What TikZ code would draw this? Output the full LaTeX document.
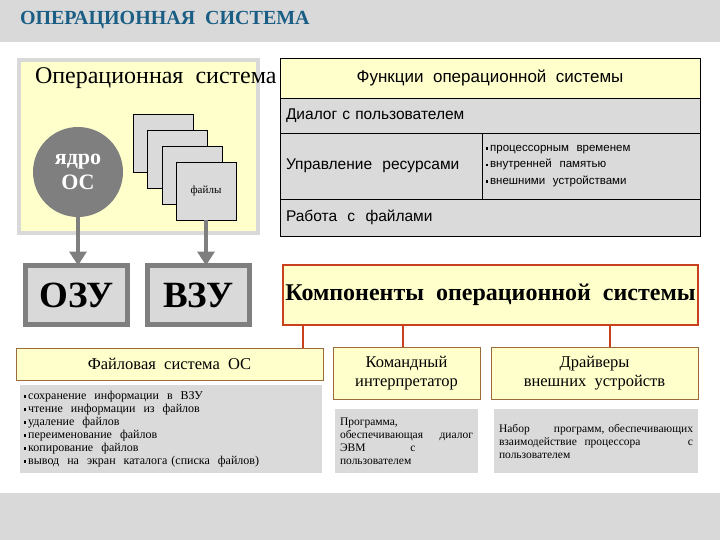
\documentclass[tikz,border=0pt]{standalone}
\usepackage{fontspec}
\setmainfont{Liberation Serif}
\setsansfont{Liberation Sans}
\usetikzlibrary{arrows.meta}
\usetikzlibrary{calc}

\definecolor{bandgray}{HTML}{D9D9D9}
\definecolor{cellgray}{HTML}{DADADA}
\definecolor{paleyellow}{HTML}{FFFFCC}
\definecolor{titleblue}{HTML}{1B5E85}
\definecolor{darkgray}{HTML}{7F7F7F}
\definecolor{boxred}{HTML}{C8401E}
\definecolor{boxbrown}{HTML}{9C6B3C}

\newcommand{\sqbul}{\rule[0.15em]{2.2pt}{2.2pt}\,}

\begin{document}
\begin{tikzpicture}[x=1pt,y=-1pt,
	every node/.style={inner sep=0pt, outer sep=0pt},
	panel/.style={draw=bandgray, line width=4pt, fill=paleyellow, anchor=north west},
	filebox/.style={draw, fill=cellgray, minimum width=60pt, minimum height=58pt, anchor=north west},
	memory/.style={draw=darkgray, line width=5pt, fill=bandgray, minimum width=102pt, minimum height=59pt,
		font=\fontsize{37}{37}\selectfont\bfseries},
	cell/.style={draw, fill=cellgray, anchor=north west, font=\sffamily\fontsize{15.5}{17}\selectfont},
	head/.style={draw, fill=paleyellow, anchor=north west},
	note/.style={fill=cellgray, anchor=north west, align=left, inner xsep=4pt, inner ysep=5pt,
		font=\fontsize{11.5}{13}\selectfont},
	comp/.style={draw=boxbrown, fill=paleyellow, anchor=north west, align=center,
		font=\fontsize{16.5}{19}\selectfont},
	hook/.style={->, >={Triangle[width=17pt,length=14pt]}, draw=darkgray, line width=4pt},
	link/.style={draw=boxred, line width=1.5pt}
]
\useasboundingbox (0,0) rectangle (720,540);
\fill[bandgray] (0,0) rectangle (720,42);
\fill[bandgray] (0,493) rectangle (720,540);
\node[anchor=west, text=titleblue, font=\fontsize{20}{20}\selectfont\bfseries] (title) at (20,20)
	{ОПЕРАЦИОННАЯ\ \ СИСТЕМА};

% operating system panel
\node[panel, minimum width=239pt, minimum height=173pt] (panel) at (19,60) {};
\node[anchor=west, font=\fontsize{24}{24}\selectfont] (ostext) at (35,78) {Операционная\ \ система};
\node[circle, fill=darkgray, minimum size=90pt, text=white, align=center,
	font=\fontsize{22}{25}\selectfont\bfseries] (core) at (78,172) {ядро\\ОС};
\node[filebox] (file1) at (133,114) {};
\node[filebox] (file2) at (147,130) {};
\node[filebox] (file3) at (162,146) {};
\node[filebox, font=\fontsize{11}{11}\selectfont] (file4) at (176,162) {файлы};

\node[memory] (ozu) at (76.5,295) {ОЗУ};
\node[memory] (vzu) at (198.5,295) {ВЗУ};
\draw[hook] (core.south) -- (core.south |- ozu.north);
\draw[hook] (file4.south) -- (file4.south |- vzu.north);

% functions table
\node[head, minimum width=420pt, minimum height=40pt, font=\sffamily\fontsize{17}{17}\selectfont] (funcs) at (280,58)
	{Функции\ \ операционной\ \ системы};
\node[cell, minimum width=420pt, minimum height=35pt, text width=408pt, inner xsep=6pt] (dialog) at (280,98)
	{Диалог с пользователем};
\node[cell, minimum width=202pt, minimum height=66pt, text width=190pt, inner xsep=6pt] (res) at (280,133)
	{Управление\ \ ресурсами};
\node[cell, minimum width=218pt, minimum height=66pt, text width=210pt, inner xsep=4pt, align=left,
	font=\sffamily\fontsize{11.5}{16.5}\selectfont] (resitems) at (482,133)
	{\sqbul процессорным\ \ временем\\ \sqbul внутренней\ \ памятью\\ \sqbul внешними\ \ устройствами};
\node[cell, minimum width=420pt, minimum height=37pt, text width=408pt, inner xsep=6pt] (files) at (280,199)
	{Работа\ \ с\ \ файлами};

% components
\node[draw=boxred, line width=1.8pt, fill=paleyellow, minimum width=415pt, minimum height=60pt, anchor=north west,
	font=\fontsize{24}{24}\selectfont\bfseries] (parts) at (283,265)
	{Компоненты\ \ операционной\ \ системы};

\node[comp, minimum width=307pt, minimum height=32pt] (fsys) at (16,348) {Файловая\ \ система\ \ ОС};
\node[note, minimum width=302pt, minimum height=86pt, text width=294pt, inner ysep=6pt,
	font=\fontsize{12}{13}\selectfont] (fsysnote) at (20,385)
	{\sqbul сохранение\ \ информации\ \ в\ \ ВЗУ\\
	 \sqbul чтение\ \ информации\ \ из\ \ файлов\\
	 \sqbul удаление\ \ файлов\\
	 \sqbul переименование\ \ файлов\\
	 \sqbul копирование\ \ файлов\\
	 \sqbul вывод\ \ на\ \ экран\ \ каталога (списка\ \ файлов)};

\node[comp, minimum width=147pt, minimum height=52pt] (shell) at (333,347) {Командный\\интерпретатор};
\node[note, minimum width=143pt, minimum height=64pt, text width=133pt, inner xsep=5pt] (shellnote) at (335,409)
	{Программа,\\ обеспечивающая\hfill диалог\\ ЭВМ\hspace{45pt}с\\ пользователем};

\node[note, minimum width=204pt, minimum height=64pt, text width=194pt, inner xsep=5pt] (drvnote) at (494,409)
	{Набор\hfill программ, обеспечивающих\\ взаимодействие\ \ процессора\hfill с\\ пользователем};
\node[comp, minimum width=207pt, minimum height=52pt] (drivers) at (491,347) {Драйверы\\внешних\ \ устройств};

\draw[link] (parts.south -| 303,0) -- (fsys.north -| 303,0);
\draw[link] (parts.south -| 403,0) -- (shell.north -| 403,0);
\draw[link] (parts.south -| 610,0) -- (drivers.north -| 610,0);
\end{tikzpicture}
\end{document}
